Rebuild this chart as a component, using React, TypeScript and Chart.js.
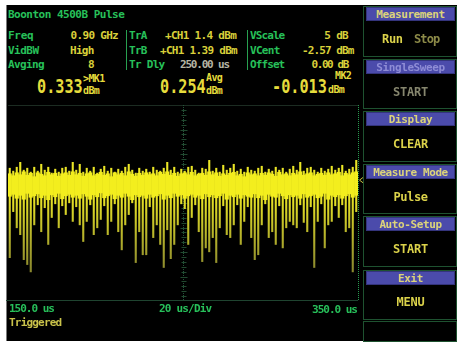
import React, { useEffect, useRef } from 'react';
import { Chart, registerables } from 'chart.js';

Chart.register(...registerables);

// ---- data (dBm), 100 time bins of 2 us from 150 us to 350 us ----
const TIME_START_US = 150;
const TIME_END_US = 350;
const V_SCALE_DB = 5;
const V_CENTER_DBM = -2.57;

const peakHi = [
  4.6, 4.0, 4.8, 5.8, 4.2, 4.6, 3.8, 4.8, 4.0, 5.4,
  4.2, 4.8, 3.6, 4.4, 3.8, 4.6, 4.8, 4.0, 5.8, 4.2,
  5.4, 3.8, 4.6, 4.0, 4.8, 3.6, 4.4, 5.0, 4.0, 4.6,
  3.8, 4.4, 4.0, 4.8, 5.4, 4.2, 3.6, 4.6, 4.0, 4.4,
  3.8, 4.8, 4.2, 4.0, 4.6, 5.8, 4.2, 4.8, 3.8, 4.4,
  4.0, 4.8, 5.0, 4.2, 3.6, 4.6, 4.4, 6.2, 4.0, 4.6,
  3.8, 5.2, 4.2, 4.6, 5.4, 4.0, 4.4, 3.8, 4.8, 4.2,
  4.0, 4.6, 5.0, 3.8, 4.4, 4.0, 4.8, 4.2, 4.6, 3.8,
  4.4, 5.0, 4.2, 5.8, 4.0, 4.6, 4.8, 4.2, 3.8, 4.6,
  4.0, 4.4, 5.0, 4.2, 4.6, 5.2, 4.0, 4.4, 4.8, 6.2,
];
const peakLo = [
  -13.8, -4.4, -7.7, -9.1, -14.2, -15.2, -16.7, -7.1, -3.0, -8.5,
  -3.6, -11.1, -5.6, -2.8, -7.7, -3.2, -5.0, -2.6, -6.4, -3.4,
  -7.1, -10.5, -6.4, -3.0, -9.1, -7.7, -6.0, -3.2, -9.1, -6.4,
  -2.8, -8.5, -12.2, -7.1, -5.0, -2.6, -14.8, -8.5, -13.2, -13.2,
  -3.4, -9.7, -7.1, -11.1, -15.8, -8.1, -14.0, -11.1, -7.1, -2.8,
  -3.8, -11.1, -5.6, -3.0, -8.5, -14.6, -11.8, -12.6, -9.7, -14.8,
  -7.7, -3.2, -9.1, -9.7, -7.1, -3.0, -11.1, -6.4, -3.4, -9.7,
  -14.2, -13.2, -7.1, -2.8, -9.7, -8.5, -11.1, -3.2, -11.8, -7.7,
  -6.4, -7.1, -7.7, -3.0, -6.6, -8.5, -3.4, -15.8, -6.4, -2.8,
  -11.8, -7.1, -6.4, -3.2, -5.6, -3.0, -8.5, -7.7, -16.7, -4.4,
];
const bandHi = [
  3.4, 3.0, 3.6, 3.2, 3.8, 3.1, 3.5, 2.8, 3.6, 3.3,
  3.0, 3.7, 3.2, 3.5, 2.9, 3.4, 3.6, 3.1, 3.8, 3.2,
  3.5, 2.9, 3.4, 3.6, 3.0, 3.3, 3.7, 3.1, 3.4, 2.8,
  3.6, 3.2, 3.5, 3.0, 3.8, 3.3, 2.9, 3.5, 3.1, 3.6,
  3.2, 3.4, 3.0, 3.7, 3.3, 3.8, 3.1, 3.5, 2.9, 3.4,
  3.6, 3.2, 3.7, 3.0, 3.3, 3.5, 3.1, 3.8, 3.2, 3.6,
  2.9, 3.4, 3.1, 3.5, 3.7, 3.0, 3.3, 2.8, 3.6, 3.2,
  3.4, 3.0, 3.5, 3.1, 3.6, 3.3, 2.9, 3.7, 3.2, 3.4,
  3.0, 3.5, 3.2, 3.8, 3.1, 3.4, 3.6, 3.0, 3.3, 3.5,
  3.1, 3.6, 3.2, 3.4, 3.7, 3.0, 3.5, 3.2, 3.6, 3.8,
];
const bandLo = [
  -1.2, -0.8, -1.6, -1.0, -1.8, -0.6, -1.4, -1.1, -0.7, -1.5,
  -1.0, -1.9, -0.9, -1.3, -0.6, -1.7, -1.1, -0.8, -1.4, -1.0,
  -1.6, -0.7, -1.2, -1.8, -0.9, -1.3, -0.5, -1.5, -1.1, -0.8,
  -1.7, -1.0, -1.4, -0.6, -1.2, -1.9, -0.9, -1.3, -1.0, -1.6,
  -0.8, -1.4, -1.1, -0.7, -1.8, -1.0, -1.5, -0.6, -1.2, -0.9,
  -1.6, -1.1, -0.8, -1.4, -1.0, -1.7, -0.7, -1.3, -0.9, -1.5,
  -1.1, -0.6, -1.8, -1.0, -1.3, -0.8, -1.6, -0.9, -1.2, -1.4,
  -0.7, -1.5, -1.0, -1.9, -0.8, -1.2, -1.4, -0.6, -1.1, -1.7,
  -0.9, -1.3, -1.0, -1.6, -0.7, -1.4, -1.1, -0.8, -1.5, -1.2,
  -0.6, -1.8, -1.0, -1.3, -0.9, -1.6, -1.1, -0.7, -1.4, -1.0,
];
const REF_MARKER_DBM = 2.1;

const binStep = (TIME_END_US - TIME_START_US) / peakHi.length;
const binLabels = peakHi.map((_, i) => String(TIME_START_US + binStep * (i + 0.5)));

// ---- colours / fonts ----
const FONT = "'DejaVu Sans Mono', monospace";
const GREEN = '#27c05a';
const YEL = '#d9d03a';
const BIG = '#e6dc3c';
const GRAY = '#b4b4a4';
const HDR_TXT = '#dcd47a';
const BODY_TXT = '#dbd24a';

const gridPlugin = {
  id: 'scopeGrid',
  beforeDatasetsDraw(chart: any) {
    const { ctx, chartArea: a, scales } = chart;
    const y = scales.y;
    const cx = Math.round((a.left + a.right) / 2) + 0.5;
    ctx.save();
    ctx.strokeStyle = '#1c2c22';
    ctx.lineWidth = 1;
    ctx.beginPath();
    ctx.moveTo(a.left, a.top + 0.5);
    ctx.lineTo(a.right, a.top + 0.5);
    ctx.stroke();
    ctx.strokeStyle = '#1f4430';
    ctx.beginPath();
    ctx.moveTo(0, Math.round(a.bottom) - 0.5);
    ctx.lineTo(a.right, Math.round(a.bottom) - 0.5);
    ctx.stroke();
    ctx.strokeStyle = '#24553a';
    ctx.setLineDash([1, 1]);
    ctx.beginPath();
    ctx.moveTo(cx, a.top);
    ctx.lineTo(cx, a.bottom);
    ctx.stroke();
    ctx.setLineDash([]);
    ctx.strokeStyle = '#21482f';
    for (let k = -20; k <= 20; k++) {
      const py = Math.round(y.getPixelForValue(V_CENTER_DBM + k * (V_SCALE_DB / 5))) + 0.5;
      if (py <= a.top + 1 || py >= a.bottom - 1) continue;
      const len = k % 5 === 0 ? 3 : 2;
      ctx.beginPath();
      ctx.moveTo(cx - len, py);
      ctx.lineTo(cx + len + 1, py);
      ctx.stroke();
    }
    ctx.restore();
  },
  afterDatasetsDraw(chart: any) {
    const { ctx, chartArea: a, scales } = chart;
    const rx = Math.round(a.right) + 0.5;
    ctx.save();
    ctx.strokeStyle = '#2a9a50';
    ctx.lineWidth = 1;
    ctx.setLineDash([1, 1]);
    ctx.beginPath();
    ctx.moveTo(rx, a.top);
    ctx.lineTo(rx, a.bottom);
    ctx.stroke();
    ctx.setLineDash([]);
    const my = scales.y.getPixelForValue(REF_MARKER_DBM);
    ctx.strokeStyle = '#c8c040';
    ctx.beginPath();
    ctx.moveTo(rx + 5, my - 3);
    ctx.lineTo(rx + 1, my);
    ctx.lineTo(rx + 5, my + 3);
    ctx.stroke();
    ctx.restore();
  },
};

type TP = {
  x: number; y: number; s: string; c: string; fs?: number; ls?: number; sx?: number;
  align?: 'left' | 'center' | 'right'; w?: string;
};
function T({ x, y, s, c, fs = 11, ls = -0.7, sx = 1, align = 'left', w = 'bold' }: TP) {
  const lh = fs + 4;
  const style: React.CSSProperties = {
    position: 'absolute', top: y - lh / 2, fontSize: fs, lineHeight: lh + 'px', color: c,
    letterSpacing: ls, whiteSpace: 'pre', fontFamily: FONT, fontWeight: w as any,
  };
  if (align === 'left') {
    style.left = x;
    style.transformOrigin = 'left center';
    if (sx !== 1) style.transform = `scaleX(${sx})`;
  } else if (align === 'right') {
    style.right = 457 - x;
    style.transformOrigin = 'right center';
    if (sx !== 1) style.transform = `scaleX(${sx})`;
  } else {
    style.left = x;
    style.transform = `translateX(-50%) scaleX(${sx})`;
  }
  return <div style={style}>{s}</div>;
}

const groups = [
  { top: 6, h: 51, title: 'Measurement', tc: HDR_TXT },
  { top: 59, h: 50, title: 'SingleSweep', tc: '#8f8dd6' },
  { top: 111, h: 51, title: 'Display', tc: HDR_TXT },
  { top: 164, h: 50, title: 'Measure Mode', tc: HDR_TXT },
  { top: 216, h: 51, title: 'Auto-Setup', tc: HDR_TXT },
  { top: 270, h: 50, title: 'Exit', tc: HDR_TXT },
  { top: 321, h: 21, title: '', tc: HDR_TXT },
];

export default function App() {
  const ref = useRef<HTMLCanvasElement>(null);
  useEffect(() => {
    if (!ref.current) return;
    const chart = new Chart(ref.current, {
      type: 'bar',
      data: {
        labels: binLabels,
        datasets: [
          {
            label: 'band',
            data: bandLo.map((v, i) => [v, bandHi[i]]) as any,
            backgroundColor: '#f3ee1e',
            barPercentage: 1,
            categoryPercentage: 1,
            grouped: false,
            borderWidth: 0,
          } as any,
          {
            label: 'peaks',
            data: peakLo.map((v, i) => [v, peakHi[i]]) as any,
            backgroundColor: (c: any) => {
              const ch = c.chart;
              if (!ch.chartArea) return '#d8d428';
              const ys = ch.scales.y;
              const g = ch.ctx.createLinearGradient(0, ys.getPixelForValue(-1), 0, ys.getPixelForValue(-16));
              g.addColorStop(0, '#ebe626');
              g.addColorStop(1, '#8c8a2e');
              return g;
            },
            barPercentage: 0.6,
            categoryPercentage: 1,
            grouped: false,
            borderWidth: 0,
          } as any,
        ],
      },
      options: {
        animation: false,
        responsive: false,
        maintainAspectRatio: false,
        events: [],
        layout: { padding: { left: 2, right: 6, top: 2, bottom: 2 } },
        plugins: { legend: { display: false }, tooltip: { enabled: false } },
        scales: {
          x: { display: false },
          y: {
            display: false,
            min: V_CENTER_DBM - 4 * V_SCALE_DB,
            max: V_CENTER_DBM + 4 * V_SCALE_DB,
          },
        },
      },
      plugins: [gridPlugin],
    });
    return () => chart.destroy();
  }, []);

  return (
    <div style={{ position: 'fixed', left: 0, top: 0, width: 457, height: 342, background: '#fff', overflow: 'hidden', fontFamily: FONT }}>
      <div style={{ position: 'absolute', left: 6, top: 5, width: 451, height: 336, background: '#000', borderLeft: '1px solid #7a7a7a' }} />
      <canvas ref={ref} width={358} height={200} style={{ position: 'absolute', left: 6, top: 103, width: 358, height: 200 }} />

      <T x={8} y={14} s="Boonton 4500B Pulse" c={GREEN} ls={-0.5} />

      <T x={8} y={35.5} s="Freq" c={GREEN} ls={-0.3} />
      <T x={118} y={35.5} s="0.90 GHz" c={YEL} align="right" />
      <T x={8} y={50} s="VidBW" c={GREEN} ls={-0.5} />
      <T x={70} y={50} s="High" c={YEL} />
      <T x={8} y={64} s="Avging" c={GREEN} ls={-0.6} />
      <T x={88} y={64} s="8" c={YEL} />

      <div style={{ position: 'absolute', left: 126, top: 30, width: 1, height: 40, background: '#28a050' }} />
      <T x={129} y={35.5} s="TrA" c={GREEN} />
      <T x={165} y={35.5} s="+CH1 1.4 dBm" c={YEL} />
      <T x={129} y={50} s="TrB" c={GREEN} />
      <T x={160} y={50} s="+CH1 1.39 dBm" c={YEL} />
      <T x={129} y={64} s="Tr Dly" c={GREEN} />
      <T x={180} y={64} s="250.00 us" c={GRAY} ls={-1.2} />

      <div style={{ position: 'absolute', left: 247, top: 30, width: 1, height: 40, background: '#28a050' }} />
      <T x={250} y={35.5} s="VScale" c={GREEN} ls={-0.9} />
      <T x={348} y={35.5} s="5 dB" c={YEL} align="right" />
      <T x={250} y={50} s="VCent" c={GREEN} />
      <T x={302} y={50} s="-2.57 dBm" c={YEL} ls={-0.9} />
      <T x={250} y={64} s="Offset" c={GREEN} ls={-0.9} />
      <T x={348} y={64} s="0.00 dB" c={YEL} align="right" ls={-1.4} />

      <T x={37} y={85.5} s="0.333" c={BIG} fs={20} ls={0} sx={0.76} />
      <T x={83} y={78.5} s=">MK1" c={BIG} fs={10} ls={-0.6} />
      <T x={83} y={90.5} s="dBm" c={BIG} fs={10} ls={-0.6} />
      <T x={160} y={85.5} s="0.254" c={BIG} fs={20} ls={0} sx={0.76} />
      <T x={206} y={78} s="Avg" c={BIG} fs={10} ls={-0.6} />
      <T x={206} y={90.5} s="dBm" c={BIG} fs={10} ls={-0.6} />
      <T x={272} y={85.5} s="-0.013" c={BIG} fs={20} ls={0} sx={0.76} />
      <T x={335} y={76} s="MK2" c={BIG} fs={10} ls={-0.6} />
      <T x={328} y={90} s="dBm" c={BIG} fs={10} ls={-0.6} />

      <T x={9} y={308} s="150.0 us" c={GREEN} ls={-1} />
      <T x={159} y={308} s="20 us/Div" c={GREEN} ls={-0.8} />
      <T x={357} y={309} s="350.0 us" c={GREEN} ls={-1} align="right" />
      <T x={9} y={322} s="Triggered" c="#c9c24a" ls={-0.8} />

      {groups.map((g, i) => (
        <React.Fragment key={i}>
          <div style={{ position: 'absolute', left: 363, top: g.top, width: 94, height: g.h, boxSizing: 'border-box', border: '1px solid #1e5230' }} />
          {g.title ? (
            <div style={{ position: 'absolute', left: 366, top: g.top + 1, width: 89, height: 14, boxSizing: 'border-box', background: '#4b4bab', border: '1px solid #34347c' }} />
          ) : null}
          {g.title ? <T x={410.5} y={g.top + 8} s={g.title} c={g.tc} align="center" ls={-0.4} /> : null}
        </React.Fragment>
      ))}
      <T x={382} y={39} s="Run" c={BODY_TXT} fs={12} ls={-0.3} />
      <T x={414} y={39} s="Stop" c="#8c8a48" fs={12} ls={-0.9} />
      <T x={410.5} y={91.5} s="START" c="#86866e" fs={12} ls={-0.2} align="center" />
      <T x={410.5} y={144} s="CLEAR" c={BODY_TXT} fs={12} ls={-0.2} align="center" />
      <T x={410.5} y={196.5} s="Pulse" c={BODY_TXT} fs={12} ls={-0.4} align="center" />
      <T x={410.5} y={249} s="START" c={BODY_TXT} fs={12} ls={-0.2} align="center" />
      <T x={410.5} y={302} s="MENU" c={BODY_TXT} fs={12} ls={-0.2} align="center" />
    </div>
  );
}
